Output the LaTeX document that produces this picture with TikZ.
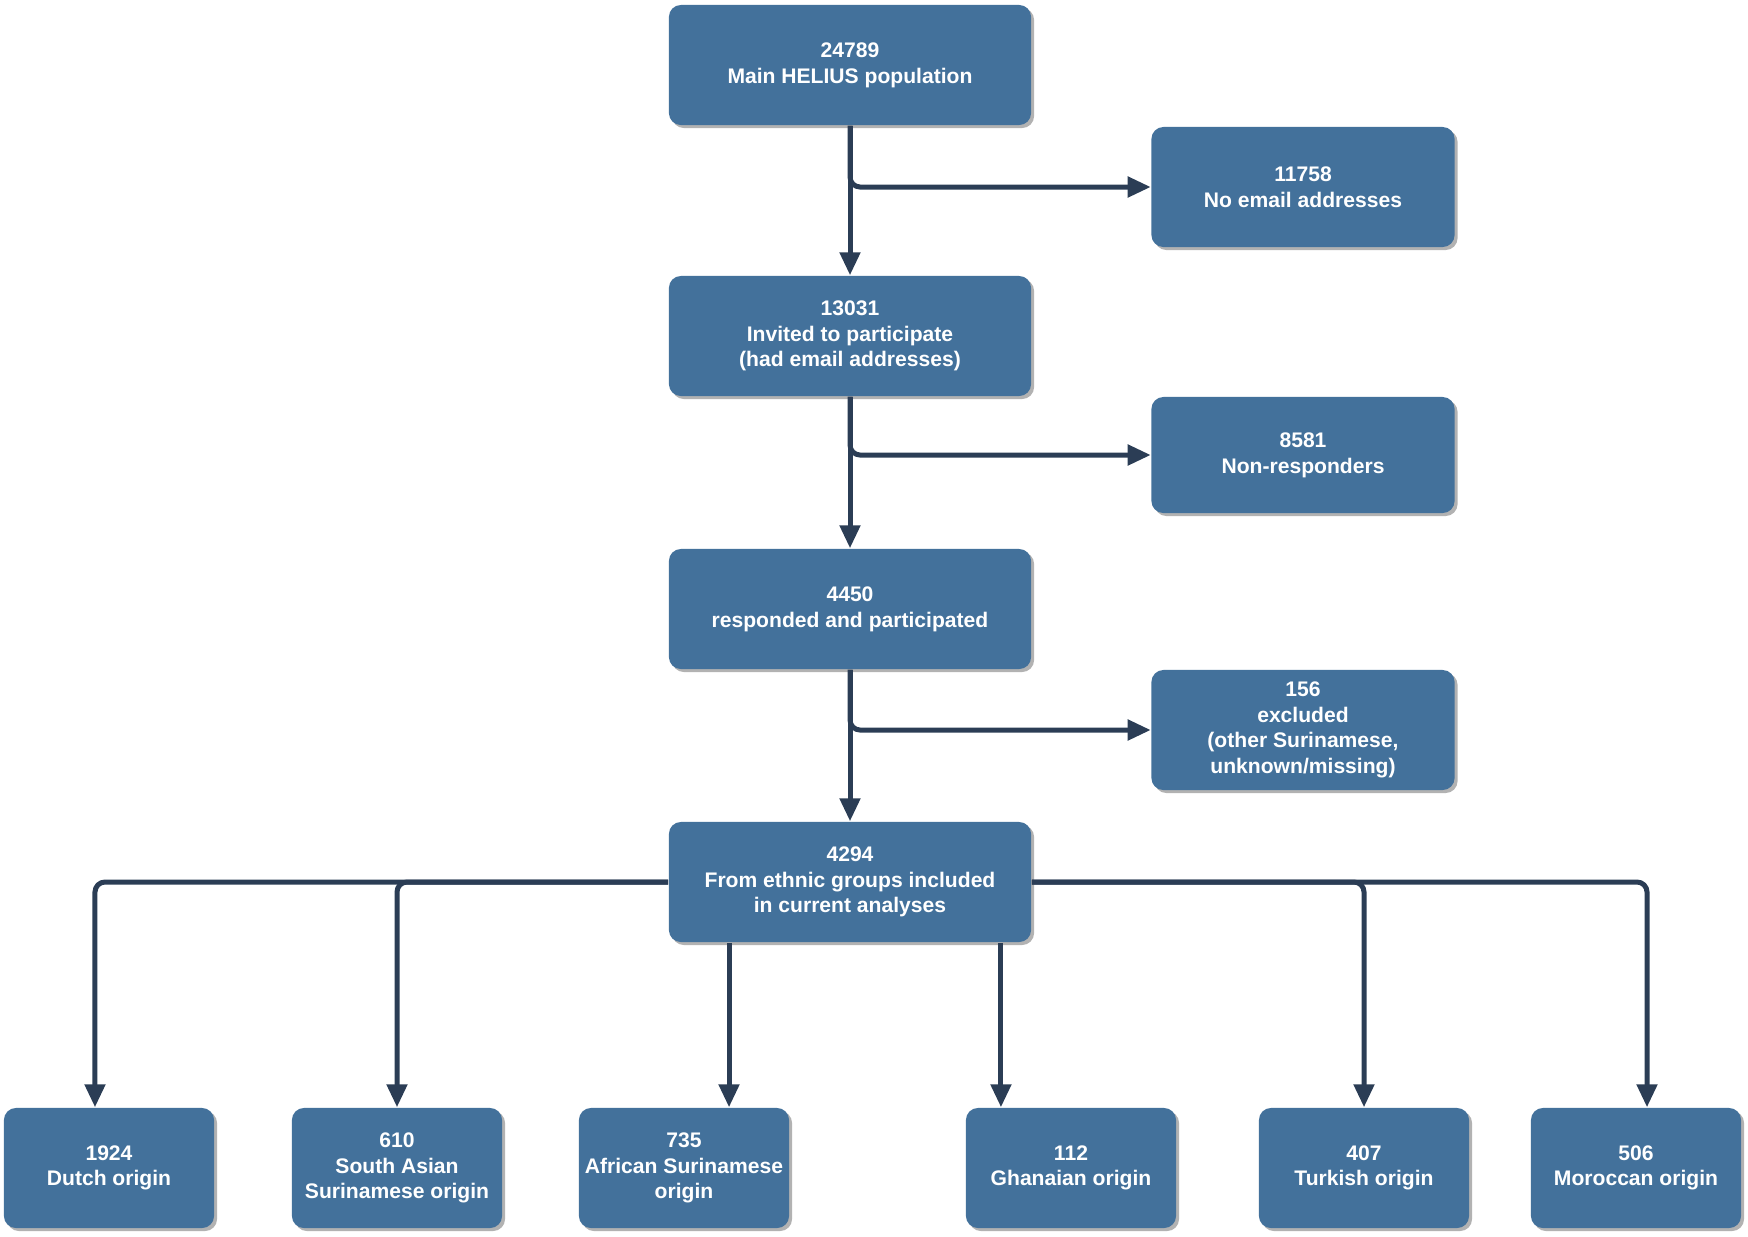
\documentclass[tikz,border=0pt]{standalone}
\usepackage{fontspec}
\setmainfont{Liberation Sans}
\usetikzlibrary{arrows.meta,shadows}
\definecolor{boxblue}{HTML}{43719B}
\definecolor{arrowblue}{HTML}{2B3D55}
\begin{document}
\begin{tikzpicture}[x=0.01cm, y=-0.01cm,
    box/.style={rectangle, rounded corners=0.12cm, fill=boxblue, text=white, align=center,
      font=\fontsize{6}{7.3}\selectfont\bfseries, inner sep=0pt,
      drop shadow={shadow xshift=0.03cm, shadow yshift=-0.03cm, fill=black, opacity=0.3}},
    wide/.style={box, minimum width=3.62cm, minimum height=1.2cm},
    side/.style={box, minimum width=3.03cm, minimum height=1.2cm},
    leaf/.style={box, minimum width=2.1cm, minimum height=1.2cm},
    arr/.style={draw=arrowblue, line width=0.05cm, rounded corners=0.1cm,
      -{Triangle[width=0.2cm,length=0.23cm]}}]
    \useasboundingbox (0,0) rectangle (1748,1236);

    \node[wide] (MP) at (850, 65) {24789\\Main HELIUS population};
    \node[side] (NE) at (1303, 187) {11758\\No email addresses};
    \node[wide] (IP) at (850, 336) {13031\\Invited to participate\\(had email addresses)};
    \node[side, minimum height=1.16cm] (NR) at (1303, 455) {8581\\Non-responders};
    \node[wide] (RP) at (850, 609) {4450\\responded and participated};
    \node[side] (EX) at (1303, 730) {156\\excluded\\(other Surinamese,\\unknown/missing)};
    \node[wide] (EG) at (850, 882) {4294\\From ethnic groups included\\in current analyses};

    \node[leaf] (DU) at (109, 1168) {1924\\Dutch origin};
    \node[leaf] (SA) at (397, 1168) {610\\South Asian\\Surinamese origin};
    \node[leaf] (AS) at (684, 1168) {735\\African Surinamese\\origin};
    \node[leaf] (GH) at (1071, 1168) {112\\Ghanaian origin};
    \node[leaf] (TU) at (1364, 1168) {407\\Turkish origin};
    \node[leaf] (MO) at (1636, 1168) {506\\Moroccan origin};

    \draw[arr] (MP) -- (IP);
    \draw[arr] (MP.south) |- (NE.west);
    \draw[arr] (IP) -- (RP);
    \draw[arr] (IP.south) |- (NR.west);
    \draw[arr] (RP) -- (EG);
    \draw[arr] (RP.south) |- (EX.west);

    \draw[arr] (EG.west) -| ([xshift=-0.14cm]DU.north);
    \draw[arr] (EG.west) -| (SA.north);
    \draw[arr] ([xshift=0.45cm]AS.north |- EG.south) -- ([xshift=0.45cm]AS.north);
    \draw[arr] ([xshift=-0.7cm]GH.north |- EG.south) -- ([xshift=-0.7cm]GH.north);
    \draw[arr] (EG.east) -| (TU.north);
    \draw[arr] (EG.east) -| ([xshift=0.11cm]MO.north);
  \end{tikzpicture}
\end{document}
